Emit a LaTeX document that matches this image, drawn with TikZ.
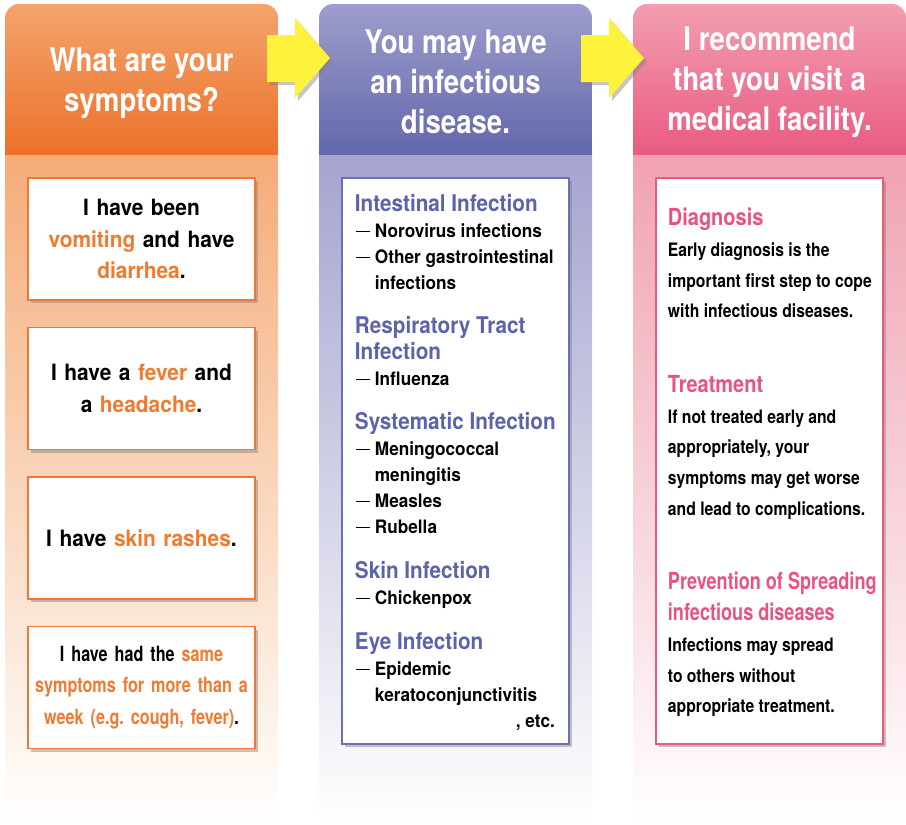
\documentclass[tikz,border=0pt]{standalone}
\usepackage{fontspec}
\setmainfont{TeX Gyre Heros}[FakeStretch=0.85]
\newfontfamily\wideff{TeX Gyre Heros}[FakeStretch=0.93]
\newfontfamily\midff{TeX Gyre Heros}[FakeStretch=0.9]
\newfontfamily\narrowff{TeX Gyre Heros}[FakeStretch=0.77]
\usetikzlibrary{positioning, shadows}
\frenchspacing

\definecolor{orgtop}{HTML}{F3A46C}
\definecolor{orgbot}{HTML}{EB6A22}
\definecolor{orglow}{HTML}{F5AC78}
\definecolor{orgline}{HTML}{EE7833}
\definecolor{orghi}{HTML}{F07A2E}
\definecolor{purtop}{HTML}{9E9DCC}
\definecolor{purbot}{HTML}{5B60A7}
\definecolor{purlow}{HTML}{A4A4D0}
\definecolor{purline}{HTML}{6B70B2}
\definecolor{purhd}{HTML}{5B63AB}
\definecolor{pnktop}{HTML}{F29EB0}
\definecolor{pnkbot}{HTML}{E8527C}
\definecolor{pnklow}{HTML}{F0A2B2}
\definecolor{pnkline}{HTML}{E85A80}
\definecolor{pnkhd}{HTML}{E8547E}
\definecolor{arrowyel}{HTML}{FFF23C}

\newcommand\hl[1]{\textcolor{orghi}{#1}}
\newcommand\dsh{\makebox[20pt][l]{\hspace{1pt}\rule[0.3em]{14pt}{1.3pt}}}
\newcommand\hdp[1]{{\midff\fontsize{23}{26}\selectfont\textcolor{purhd}{#1}}}
\newcommand\hdk[1]{{\fontsize{23.5}{30.7}\selectfont\textcolor{pnkhd}{#1}}}
\newcommand\hdkn[1]{{\narrowff\fontsize{23.5}{30.7}\selectfont\textcolor{pnkhd}{#1}}}

\begin{document}
\begin{tikzpicture}[x=1pt, y=-1pt,
    shd/.style={drop shadow={opacity=0.45, shadow xshift=3pt, shadow yshift=-3pt}},
    hdtext/.style={text=white, align=center, font=\bfseries\fontsize{32.5}{40}\selectfont},
    symbox/.style={draw=orgline, line width=1.5pt, fill=white, shd,
      minimum width=227pt, minimum height=122pt, text width=215pt, align=center,
      font=\wideff\bfseries\fontsize{22.5}{31.5}\selectfont},
    infobox/.style={line width=1.5pt, fill=white, shd, minimum width=227pt, minimum height=566pt},
    infotext/.style={anchor=west, inner sep=0pt, align=left}]
  \useasboundingbox (0,0) rectangle (906,825);

  % three columns
  \foreach \x/\c in {5/org, 319/pur, 633/pnk} {
    \shade[top color=\c top, bottom color=\c bot, rounded corners=14pt] (\x,4) rectangle ++(273,170);
    \shade[top color=\c low, bottom color=white] (\x,155) rectangle ++(273,668);
  }

  \node[hdtext] (hd1) at (141.5,83) {What are your\\symptoms?};
  \node[hdtext] (hd2) at (455.5,81.5) {You may have\\an infectious\\disease.};
  \node[hdtext] (hd3) at (769.5,82) {I recommend\\that you visit a\\medical facility.};

  % yellow arrows
  \foreach \x in {267, 581}
    \fill[arrowyel, shd] (\x,35) -- ++(28,0) -- ++(0,-17) -- ++(35,40) -- ++(-35,40)
      -- ++(0,-16) -- ++(-28,0) -- cycle;

  % symptoms
  \node[symbox] (s1) at (141.5,239) {I have been\\ \hl{vomiting} and have\\ \hl{diarrhea}.};
  \node[symbox, below=26pt of s1] (s2) {I have a \hl{fever} and\\ a \hl{headache}.};
  \node[symbox, below=26pt of s2] (s3) {I have \hl{skin rashes}.};
  \node[symbox, below=26pt of s3, font=\narrowff\bfseries\fontsize{21}{31.5}\selectfont] (s4)
    {I have had the \hl{same}\\ \hl{symptoms for more than a}\\ \hl{week (e.g. cough, fever)}.};

  % diseases
  \node[infobox, draw=purline] (dis) at (455.5,461) {};
  \node[infotext, font=\wideff\bfseries\fontsize{18.5}{26}\selectfont] (distxt)
      at ([xshift=13.5pt, yshift=-2pt]dis.west) {
    \hdp{Intestinal Infection}\\
    \dsh Norovirus infections\\
    \dsh Other gastrointestinal\\
    \hspace*{20pt}infections\\[18pt]
    \hdp{Respiratory Tract}\\
    \hdp{Infection}\\
    \dsh Influenza\\[18pt]
    \hdp{Systematic Infection}\\
    \dsh Meningococcal\\
    \hspace*{20pt}meningitis\\
    \dsh Measles\\
    \dsh Rubella\\[19pt]
    \hdp{Skin Infection}\\
    \dsh Chickenpox\\[19pt]
    \hdp{Eye Infection}\\
    \dsh Epidemic\\
    \hspace*{20pt}keratoconjunctivitis\\
    \makebox[200pt][r]{, etc.}};

  % advice
  \node[infobox, draw=pnkline] (adv) at (769.5,461) {};
  \node[infotext, font=\bfseries\fontsize{18.5}{30.7}\selectfont] (advtxt)
      at ([xshift=12.5pt, yshift=-1.5pt]adv.west) {
    \hdk{Diagnosis}\\
    Early diagnosis is the\\
    important first step to cope\\
    with infectious diseases.\\[44pt]
    \hdk{Treatment}\\
    If not treated early and\\
    appropriately, your\\
    symptoms may get worse\\
    and lead to complications.\\[44pt]
    \hdkn{Prevention of Spreading}\\
    \hdkn{infectious diseases}\\
    Infections may spread\\
    to others without\\
    appropriate treatment.};
\end{tikzpicture}
\end{document}
